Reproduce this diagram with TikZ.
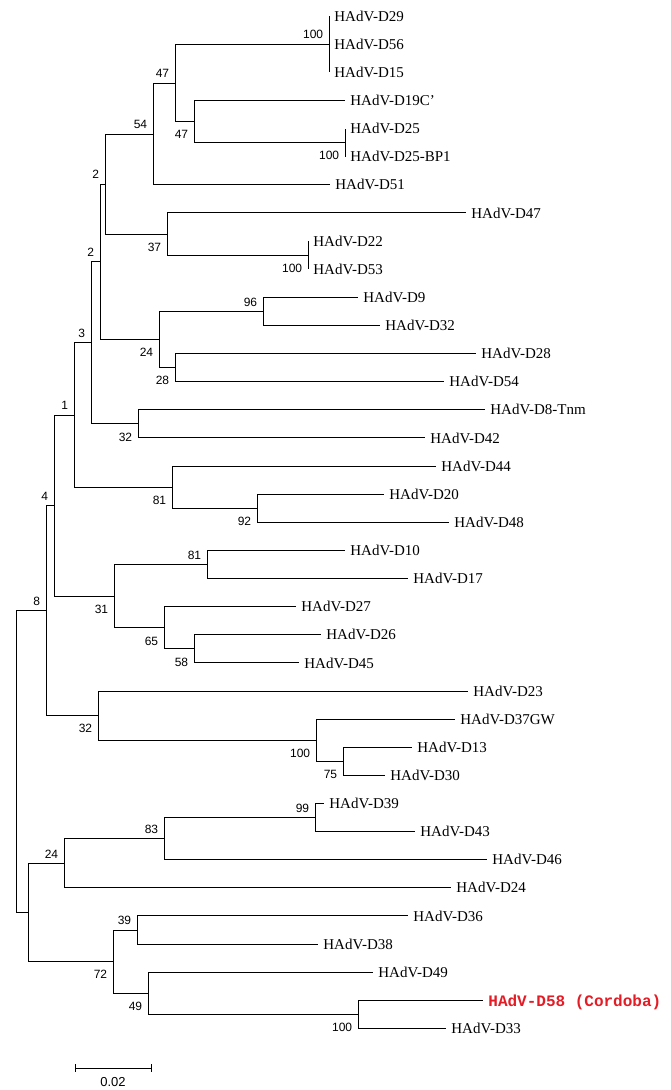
\documentclass[tikz,border=0pt]{standalone}
\usepackage{fontspec}
\setmainfont{Liberation Serif}
\newfontfamily\bootfont{Liberation Sans}
\newfontfamily\strainfont{Liberation Mono}
\usepackage{tikz}
\usetikzlibrary{calc}
\definecolor{cordobared}{RGB}{228,28,38}

\begin{document}
\begin{tikzpicture}[x=1pt,y=-1pt,line width=0.8pt,
  leaf/.style={anchor=west,inner xsep=5pt,inner ysep=0pt,text depth=0pt,font=\fontsize{15}{17}\selectfont},
  boot/.style={font=\bootfont\fontsize{12}{14}\selectfont,inner sep=0pt},
  bootup/.style={boot,anchor=south east,xshift=-5.5pt,yshift=4.7pt},
  bootdown/.style={boot,anchor=north east,xshift=-5.5pt,yshift=-8.7pt}]
\useasboundingbox (0,0) rectangle (670,1090);
% Leaves
\node[leaf] (d29) at (329,16) {HAdV-D29};
\node[leaf] (d56) at (329,44) {HAdV-D56};
\node[leaf] (d15) at (329,72) {HAdV-D15};
\node[leaf] (d19c) at (345,100) {HAdV-D19C'};
\node[leaf] (d25) at (345,128.5) {HAdV-D25};
\node[leaf] (d25bp) at (345,156.6) {HAdV-D25-BP1};
\node[leaf] (d51) at (330,184.7) {HAdV-D51};
\node[leaf] (d47) at (466,212.8) {HAdV-D47};
\node[leaf] (d22) at (308,241) {HAdV-D22};
\node[leaf] (d53) at (308,269) {HAdV-D53};
\node[leaf] (d9) at (358,297.2) {HAdV-D9};
\node[leaf] (d32) at (380,325.3) {HAdV-D32};
\node[leaf] (d28) at (476,353.4) {HAdV-D28};
\node[leaf] (d54) at (444,381.6) {HAdV-D54};
\node[leaf] (d8tnm) at (485,409.7) {HAdV-D8-Tnm};
\node[leaf] (d42) at (425,437.8) {HAdV-D42};
\node[leaf] (d44) at (436,465.9) {HAdV-D44};
\node[leaf] (d20) at (384,494) {HAdV-D20};
\node[leaf] (d48) at (449,522.2) {HAdV-D48};
\node[leaf] (d10) at (345,550.3) {HAdV-D10};
\node[leaf] (d17) at (408,578.4) {HAdV-D17};
\node[leaf] (d27) at (296,606.5) {HAdV-D27};
\node[leaf] (d26) at (321,634.6) {HAdV-D26};
\node[leaf] (d45) at (299,662.8) {HAdV-D45};
\node[leaf] (d23) at (468,690.9) {HAdV-D23};
\node[leaf] (d37gw) at (455,719) {HAdV-D37GW};
\node[leaf] (d13) at (412,747.1) {HAdV-D13};
\node[leaf] (d30) at (385,775.2) {HAdV-D30};
\node[leaf] (d39) at (324,803.4) {HAdV-D39};
\node[leaf] (d43) at (415,831.5) {HAdV-D43};
\node[leaf] (d46) at (487,859.6) {HAdV-D46};
\node[leaf] (d24) at (451,887.7) {HAdV-D24};
\node[leaf] (d36) at (408,915.8) {HAdV-D36};
\node[leaf] (d38) at (318,944) {HAdV-D38};
\node[leaf] (d49) at (373,972.1) {HAdV-D49};
\node[leaf,font=\strainfont\bfseries\fontsize{16}{18}\selectfont,text=cordobared] (d58) at (483,1000.2) {HAdV-D58 (Cordoba)};
\node[leaf] (d33) at (446,1028.3) {HAdV-D33};
% Internal nodes
\coordinate (root) at (16,761.4);
\coordinate (n8) at (46,610.5);
\coordinate (n4) at (54,505.4);
\coordinate (n1) at (74,414.9);
\coordinate (n3) at (91,342.7);
\coordinate (n2b) at (100,261.7);
\coordinate (n2a) at (105,184);
\coordinate (n54) at (153,134);
\coordinate (n47a) at (175,83);
\coordinate (n100a) at (329,44);
\coordinate (n47b) at (194,121.5);
\coordinate (n100b) at (345,142.5);
\coordinate (n37) at (167,234);
\coordinate (n100c) at (308,255);
\coordinate (n24a) at (159,339.4);
\coordinate (n96) at (263,311.3);
\coordinate (n28) at (175,367.5);
\coordinate (n32a) at (138,423.8);
\coordinate (n81a) at (172,487);
\coordinate (n92) at (257,508.1);
\coordinate (n31) at (114,596);
\coordinate (n81b) at (207,564.4);
\coordinate (n65) at (164,627.6);
\coordinate (n58) at (194,648.7);
\coordinate (n32b) at (98,715.5);
\coordinate (n100d) at (316,740.1);
\coordinate (n75) at (343,761.2);
\coordinate (nx) at (28,912.3);
\coordinate (n24b) at (64,863.1);
\coordinate (n83) at (164,838.5);
\coordinate (n99) at (315,817.5);
\coordinate (n39) at (137,929.9);
\coordinate (n72) at (113,961.5);
\coordinate (n49) at (148,993.2);
\coordinate (n100e) at (358,1014.3);
% Draw branches
\draw (root) |- (n8) (root) |- (nx);
\draw (n8) |- (n4) (n8) |- (n32b);
\draw (n4) |- (n1) (n4) |- (n31);
\draw (n1) |- (n3) (n1) |- (n81a);
\draw (n3) |- (n2b) (n3) |- (n32a);
\draw (n2b) |- (n2a) (n2b) |- (n24a);
\draw (n2a) |- (n54) (n2a) |- (n37);
\draw (n54) |- (n47a) (n54) |- (d51.west);
\draw (n47a) |- (n100a) (n47a) |- (n47b);
\draw (n100a) |- (d29.west) (n100a) |- (d56.west) (n100a) |- (d15.west);
\draw (n47b) |- (d19c.west) (n47b) |- (n100b);
\draw (n100b) |- (d25.west) (n100b) |- (d25bp.west);
\draw (n37) |- (d47.west) (n37) |- (n100c);
\draw (n100c) |- (d22.west) (n100c) |- (d53.west);
\draw (n24a) |- (n96) (n24a) |- (n28);
\draw (n96) |- (d9.west) (n96) |- (d32.west);
\draw (n28) |- (d28.west) (n28) |- (d54.west);
\draw (n32a) |- (d8tnm.west) (n32a) |- (d42.west);
\draw (n81a) |- (d44.west) (n81a) |- (n92);
\draw (n92) |- (d20.west) (n92) |- (d48.west);
\draw (n31) |- (n81b) (n31) |- (n65);
\draw (n81b) |- (d10.west) (n81b) |- (d17.west);
\draw (n65) |- (d27.west) (n65) |- (n58);
\draw (n58) |- (d26.west) (n58) |- (d45.west);
\draw (n32b) |- (d23.west) (n32b) |- (n100d);
\draw (n100d) |- (d37gw.west) (n100d) |- (n75);
\draw (n75) |- (d13.west) (n75) |- (d30.west);
\draw (nx) |- (n24b) (nx) |- (n72);
\draw (n24b) |- (n83) (n24b) |- (d24.west);
\draw (n83) |- (n99) (n83) |- (d46.west);
\draw (n99) |- (d39.west) (n99) |- (d43.west);
\draw (n72) |- (n39) (n72) |- (n49);
\draw (n39) |- (d36.west) (n39) |- (d38.west);
\draw (n49) |- (d49.west) (n49) |- (n100e);
\draw (n100e) |- (d58.west) (n100e) |- (d33.west);
% Bootstrap values
\node[bootup] (b8) at (n8) {8};
\node[bootup] (b4) at (n4) {4};
\node[bootup] (b1) at (n1) {1};
\node[bootup] (b3) at (n3) {3};
\node[bootup] (b2b) at (n2b) {2};
\node[bootup] (b2a) at (n2a) {2};
\node[bootup] (b54) at (n54) {54};
\node[bootup] (b47a) at (n47a) {47};
\node[bootup] (b100a) at (n100a) {100};
\node[bootup] (b96) at (n96) {96};
\node[bootup] (b81b) at (n81b) {81};
\node[bootup] (b24b) at (n24b) {24};
\node[bootup] (b83) at (n83) {83};
\node[bootup] (b99) at (n99) {99};
\node[bootup] (b39) at (n39) {39};
\node[bootdown] (b47b) at (n47b) {47};
\node[bootdown] (b100b) at (n100b) {100};
\node[bootdown] (b37) at (n37) {37};
\node[bootdown] (b100c) at (n100c) {100};
\node[bootdown] (b24a) at (n24a) {24};
\node[bootdown] (b28) at (n28) {28};
\node[bootdown] (b32a) at (n32a) {32};
\node[bootdown] (b81a) at (n81a) {81};
\node[bootdown] (b92) at (n92) {92};
\node[bootdown] (b31) at (n31) {31};
\node[bootdown] (b65) at (n65) {65};
\node[bootdown] (b58) at (n58) {58};
\node[bootdown] (b32b) at (n32b) {32};
\node[bootdown] (b100d) at (n100d) {100};
\node[bootdown] (b75) at (n75) {75};
\node[bootdown] (b72) at (n72) {72};
\node[bootdown] (b49) at (n49) {49};
\node[bootdown] (b100e) at (n100e) {100};
% Scale bar
\coordinate (s0) at (75,1068);
\coordinate (s1) at (151,1068);
\draw (s0) -- (s1);
\draw ([yshift=4pt]s0) -- ([yshift=-4pt]s0);
\draw ([yshift=4pt]s1) -- ([yshift=-4pt]s1);
\node[font=\bootfont\fontsize{13}{15}\selectfont,anchor=north,inner sep=0pt] (scale) at ($(s0)!0.5!(s1)+(0,9)$) {0.02};
\end{tikzpicture}
\end{document}
